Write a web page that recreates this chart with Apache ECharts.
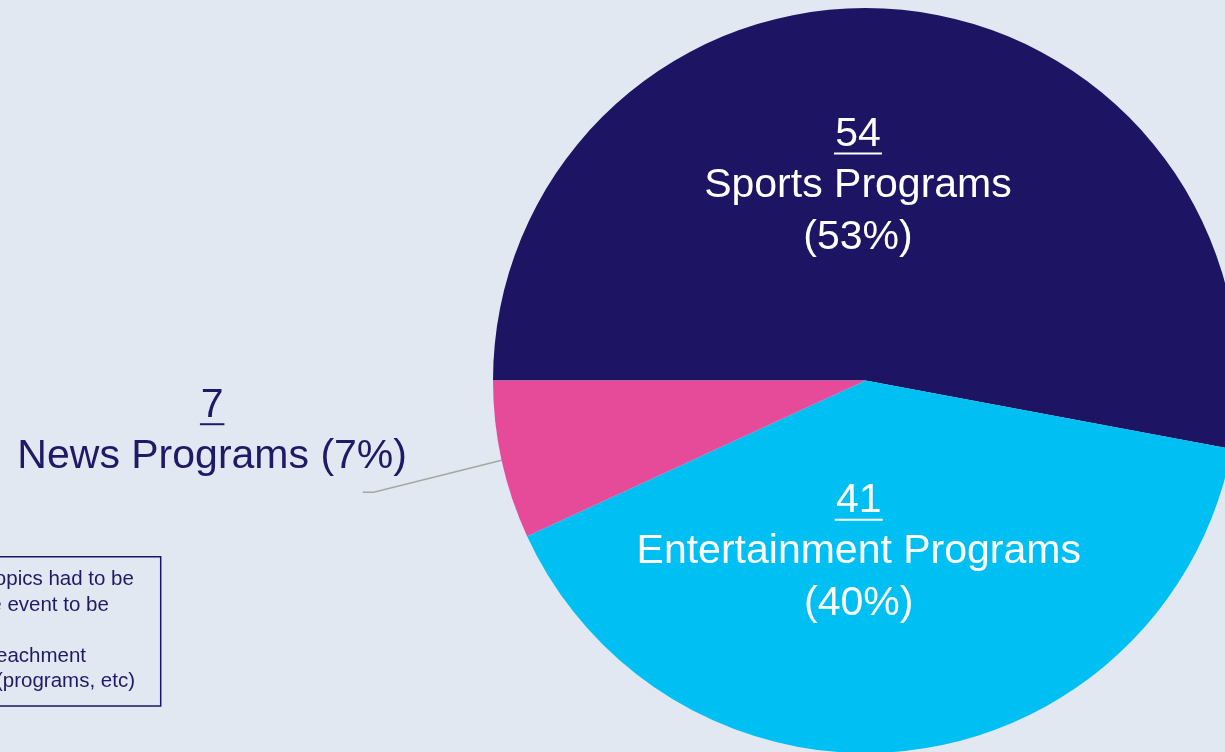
<!DOCTYPE html>
<html>
<head>
<meta charset="utf-8">
<script src="https://cdn.jsdelivr.net/npm/echarts@6/dist/echarts.min.js"></script>
<style>
html,body{margin:0;padding:0;background:#E1E8F2;}
#chart{width:1225px;height:752px;}
</style>
</head>
<body>
<div id="chart"></div>
<script>
// ---- data ----
const categories = ['Sports Programs', 'Entertainment Programs', 'News Programs'];
const counts = [54, 41, 7];
const noteLines = [
  'Note: Topics had to be',
  'the sole event to be',
  'coded.',
  'i.e. impeachment',
  'events (programs, etc)'
];

// ---- styles / layout ----
const colors = ['#1D1563', '#00BFF3', '#E64B9A'];
const textNavy = '#1F1A66';
const FONT = "'Liberation Sans', Arial, sans-serif";
// label shifts relative to library anchor (inside) or label-line end (outside)
const labelShift = [[-25, 7], [-30, -3], [-150.5, -55]];
const guideDrop = 4; // extra downward tilt of the news label guide line

function labelFor(i) {
  const inside = i < 2;
  const col = inside ? '#FFFFFF' : textNavy;
  const uw = String(counts[i]).length * 23.5 + 1;
  return {
    show: true,
    position: inside ? 'inside' : 'outside',
    fontFamily: FONT,
    formatter: function (p) {
      return '{n|' + p.value + '}\n{u| }\n{t|' + p.name + (inside ? '}\n{t|' : ' ') + '(' + Math.round(p.percent) + '%)}';
    },
    rich: {
      n: { fontSize: 41, lineHeight: 26, color: col, fontFamily: FONT, align: 'center' },
      u: { fontSize: 1, height: 2, width: uw, lineHeight: 12, backgroundColor: col, align: 'center' },
      t: { fontSize: 41, lineHeight: 52, color: col, fontFamily: FONT, align: 'center' }
    }
  };
}

const pieData = categories.map(function (c, i) {
  return {
    name: c,
    value: counts[i],
    itemStyle: { color: colors[i] },
    label: labelFor(i),
    labelLine: { show: i === 2 }
  };
});

const chart = echarts.init(document.getElementById('chart'), null, { renderer: 'canvas' });
chart.setOption({
  backgroundColor: '#E1E8F2',
  animation: false,
  series: [{
    type: 'pie',
    center: [865.5, 380.5],
    radius: 372.5,
    startAngle: 180,
    clockwise: true,
    avoidLabelOverlap: false,
    emphasis: { disabled: true },
    labelLine: {
      length: 131,
      length2: 11,
      smooth: false,
      lineStyle: { color: '#A6A6A6', width: 1.5 }
    },
    labelLayout: function (p) {
      const s = labelShift[p.dataIndex];
      if (p.dataIndex === 2 && p.labelLinePoints) {
        const pts = p.labelLinePoints.map(function (pt, k) {
          return [pt[0], pt[1] + (k > 0 ? guideDrop : 0)];
        });
        const end = pts[pts.length - 1];
        return {
          x: end[0] + s[0], y: end[1] + s[1],
          align: 'center', verticalAlign: 'middle',
          labelLinePoints: pts
        };
      }
      const r = p.labelRect;
      return {
        x: r.x + r.width / 2 + s[0],
        y: r.y + r.height / 2 + s[1],
        align: 'center', verticalAlign: 'middle'
      };
    },
    data: pieData
  }],
  graphic: [
    {
      type: 'rect',
      shape: { x: -200, y: 556.7, width: 360.7, height: 149.3 },
      style: { fill: 'none', stroke: '#1D1563', lineWidth: 1.5 },
      silent: true
    },
    {
      type: 'text',
      x: -70.1,
      y: 567,
      style: {
        text: noteLines.join('\n'),
        fontSize: 20.5,
        lineHeight: 25.5,
        fontFamily: FONT,
        fill: textNavy,
        align: 'left',
        verticalAlign: 'top'
      },
      silent: true
    }
  ]
});
</script>
</body>
</html>
